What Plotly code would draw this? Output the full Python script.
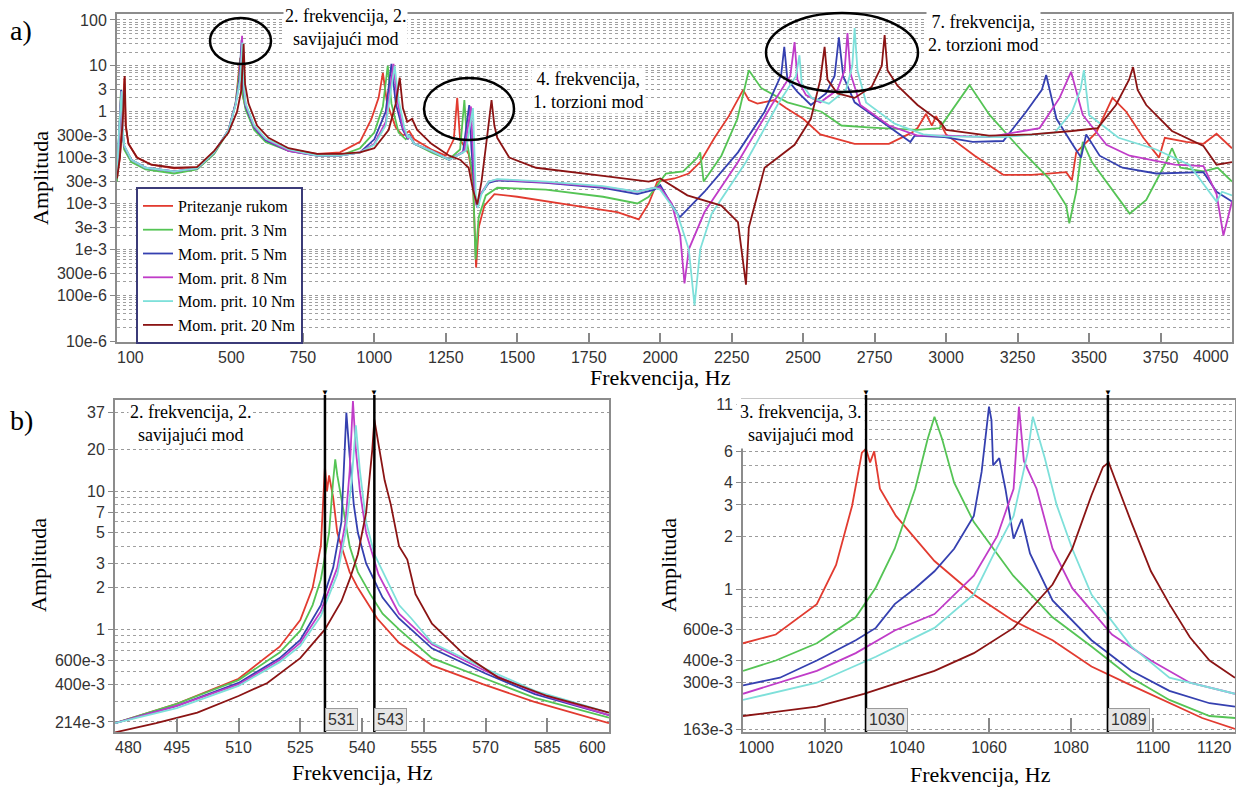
import plotly.graph_objects as go

W, H = 1236, 787

series_names = ["Pritezanje rukom", "Mom. prit. 3 Nm", "Mom. prit. 5 Nm",
                "Mom. prit. 8 Nm", "Mom. prit. 10 Nm", "Mom. prit. 20 Nm"]
series_colors = ["#e23b30", "#55c455", "#3540b0", "#c03cc8", "#7ee0da", "#8b1414"]

# ---------------- (a) full spectrum: (frequency Hz, amplitude) ----------------
a_rukom = [(100,0.035),(110,0.1),(118,0.6),(126,5.5),(130,0.5),(140,0.2),(170,0.1),(220,0.07),(300,0.058),
           (380,0.062),(440,0.13),(490,0.4),(515,1.5),(526,6),(531,15),(535,3),(550,1.2),(580,0.45),(620,0.25),
           (700,0.15),(800,0.12),(880,0.13),(950,0.22),(990,0.7),(1015,2.0),(1030,7),(1045,1.5),(1075,0.45),
           (1100,0.3),(1122,0.38),(1140,0.25),(1200,0.15),(1250,0.11),(1278,0.25),(1290,2.0),(1300,0.25),
           (1330,0.12),(1345,0.03),(1356,0.0004),(1365,0.003),(1385,0.009),(1420,0.016),(1500,0.014),
           (1700,0.009),(1850,0.0065),(1925,0.0045),(1960,0.01),(1990,0.03),(2050,0.035),(2100,0.045),
           (2140,0.08),(2190,0.27),(2240,0.8),(2290,3.0),(2310,1.8),(2340,1.5),(2400,1.8),(2440,1.2),
           (2500,0.7),(2560,0.32),(2680,0.2),(2800,0.2),(2880,0.35),(2900,0.44),(2930,0.9),(2950,0.5),
           (2965,0.8),(3000,0.32),(3100,0.11),(3200,0.042),(3300,0.042),(3420,0.048),(3440,0.032),
           (3455,0.13),(3525,0.35),(3582,2.0),(3630,1.0),(3690,0.27),(3745,0.1),(3765,0.27),(3840,0.22),
           (3900,0.2),(3946,0.33),(4000,0.16)]
a_3nm = [(100,0.03),(106,0.2),(114,3.0),(118,0.4),(125,0.15),(150,0.08),(200,0.055),(300,0.045),(380,0.055),
         (440,0.12),(490,0.38),(515,1.6),(527,6),(533.5,17),(537,3),(550,1.1),(580,0.4),(620,0.22),(700,0.14),
         (800,0.11),(880,0.11),(950,0.16),(1000,0.35),(1030,1.3),(1047,10),(1060,1.5),(1085,0.35),(1110,0.25),
         (1122,0.3),(1140,0.2),(1200,0.13),(1260,0.09),(1300,0.15),(1315,1.8),(1325,0.2),(1345,0.04),
         (1354,0.0006),(1365,0.005),(1390,0.015),(1430,0.022),(1600,0.02),(1800,0.014),(1920,0.01),
         (1960,0.014),(2000,0.03),(2020,0.045),(2080,0.05),(2130,0.1),(2140,0.13),(2152,0.03),(2214,0.11),
         (2270,0.7),(2310,8),(2353,3.3),(2445,1.6),(2564,1.0),(2634,0.5),(2740,0.45),(2900,0.4),(2977,0.44),
         (3082,3.8),(3152,0.85),(3270,0.13),(3360,0.035),(3420,0.009),(3431,0.0037),(3455,0.018),(3478,0.22),
         (3510,0.08),(3560,0.03),(3642,0.006),(3700,0.012),(3770,0.08),(3790,0.16),(3820,0.06),(3900,0.05),
         (3950,0.06),(4000,0.03)]
a_5nm = [(100,0.04),(106,0.3),(115,3.0),(119,0.4),(125,0.18),(150,0.09),(200,0.06),(300,0.05),(380,0.058),
         (440,0.13),(490,0.4),(515,1.5),(528,5),(536,37),(540,4),(550,1.3),(580,0.45),(620,0.24),(700,0.14),
         (800,0.11),(880,0.11),(950,0.13),(1000,0.25),(1040,1.0),(1060,11),(1075,1.5),(1100,0.4),(1118,0.25),
         (1122,0.32),(1140,0.2),(1200,0.14),(1262,0.09),(1310,0.13),(1332,1.4),(1340,0.15),(1350,0.02),
         (1358,0.009),(1370,0.015),(1400,0.028),(1430,0.032),(1600,0.028),(1800,0.022),(1920,0.016),
         (1980,0.02),(2000,0.025),(2027,0.013),(2068,0.005),(2155,0.018),(2272,0.13),(2365,1.0),(2423,6.3),
         (2434,26),(2445,5),(2480,2.7),(2527,1.4),(2580,2.5),(2610,6),(2625,42),(2640,6),(2680,1.6),
         (2795,0.5),(2875,0.22),(2890,0.3),(2995,0.28),(3093,0.22),(3200,0.23),(3280,1.0),(3335,3),
         (3350,6.3),(3386,0.7),(3443,0.19),(3472,0.1),(3490,0.32),(3537,0.11),(3617,0.06),(3735,0.045),
         (3900,0.048),(3946,0.018),(4000,0.011)]
a_8nm = [(100,0.04),(106,0.3),(115,2.8),(119,0.4),(125,0.18),(150,0.09),(200,0.06),(300,0.05),(380,0.058),
         (440,0.13),(490,0.4),(515,1.5),(530,5),(537.5,45),(542,4),(550,1.4),(580,0.47),(620,0.25),(700,0.14),
         (800,0.11),(880,0.11),(950,0.13),(1000,0.2),(1040,0.6),(1067,11),(1080,1.8),(1100,0.45),(1118,0.26),
         (1122,0.3),(1140,0.2),(1200,0.14),(1262,0.09),(1315,0.14),(1338,1.3),(1345,0.15),(1352,0.015),
         (1360,0.008),(1372,0.016),(1400,0.03),(1430,0.033),(1600,0.029),(1800,0.023),(1920,0.018),
         (1980,0.022),(2000,0.022),(2040,0.01),(2070,0.002),(2085,0.00018),(2100,0.001),(2155,0.0065),
         (2272,0.08),(2390,1.4),(2455,6),(2470,33),(2480,5),(2510,2.3),(2560,1.6),(2620,3),(2645,8),
         (2655,52),(2665,7),(2700,1.4),(2800,0.5),(2900,0.3),(3000,0.3),(3150,0.28),(3327,0.44),(3397,2),
         (3437,7.4),(3478,0.85),(3561,0.19),(3642,0.11),(3800,0.07),(3900,0.065),(3946,0.016),(3970,0.002),
         (4000,0.011)]
a_10nm = [(100,0.04),(106,0.3),(116,2.8),(120,0.4),(126,0.18),(150,0.09),(200,0.06),(300,0.05),(380,0.058),
          (440,0.13),(490,0.4),(515,1.4),(531,5),(538.5,32),(543,4),(550,1.5),(580,0.5),(620,0.26),(700,0.15),
          (800,0.11),(880,0.11),(950,0.13),(1000,0.19),(1040,0.5),(1071,10),(1085,1.8),(1105,0.45),(1118,0.27),
          (1122,0.3),(1140,0.2),(1200,0.14),(1262,0.09),(1320,0.14),(1345,1.2),(1350,0.15),(1355,0.015),
          (1362,0.008),(1375,0.016),(1400,0.03),(1430,0.034),(1600,0.03),(1800,0.024),(1920,0.018),
          (1980,0.022),(2000,0.02),(2060,0.006),(2100,0.001),(2120,0.00006),(2140,0.001),(2180,0.006),
          (2300,0.08),(2410,1.4),(2475,6),(2487,17),(2495,4),(2530,2),(2590,1.5),(2650,3),(2672,10),(2680,67),
          (2690,8),(2720,1.6),(2820,0.55),(2920,0.32),(3000,0.29),(3200,0.28),(3380,0.35),(3440,1.0),
          (3470,3),(3482,8.1),(3500,0.85),(3603,0.27),(3735,0.15),(3850,0.07),(3946,0.011),(3965,0.018),
          (4000,0.015)]
a_20nm = [(100,0.035),(110,0.1),(120,0.6),(127,6),(131,0.5),(140,0.2),(170,0.1),(220,0.07),(300,0.06),
          (380,0.062),(440,0.14),(490,0.35),(520,1.0),(535,3),(543,30),(548,4),(560,1.5),(590,0.5),(630,0.27),
          (700,0.16),(800,0.12),(880,0.12),(950,0.13),(1000,0.16),(1050,0.4),(1075,1.5),(1089,5.5),(1100,1.2),
          (1115,0.6),(1132,0.7),(1150,0.4),(1200,0.2),(1262,0.11),(1300,0.09),(1330,0.06),(1345,0.02),
          (1360,0.0095),(1375,0.03),(1395,0.3),(1410,1.8),(1420,0.5),(1430,0.27),(1472,0.1),(1566,0.06),
          (1800,0.04),(1960,0.03),(2000,0.035),(2095,0.015),(2214,0.009),(2272,0.0039),(2300,0.00017),
          (2310,0.003),(2365,0.06),(2470,0.19),(2527,0.7),(2560,5),(2575,26),(2585,5),(2620,2.5),(2680,2.0),
          (2740,3.5),(2775,10),(2785,47),(2795,8),(2830,3.7),(2900,1.4),(2980,0.6),(3000,0.4),(3150,0.3),
          (3300,0.32),(3440,0.38),(3530,0.44),(3594,1.4),(3640,5),(3654,9.4),(3670,3),(3700,1.4),(3790,0.38),
          (3900,0.18),(3946,0.07),(4000,0.08)]

# ---------------- (b) left: 2nd bending mode ----------------
b1_rukom = [(480,0.21),(495,0.29),(510,0.44),(520,0.75),(525,1.17),(528,2.0),(530,4),(530.5,8),(531,15),
            (531.5,10),(532,13),(533,9),(534,5),(535,4),(537,2.6),(539,2.0),(543.7,1.2),(549,0.8),(557,0.55),
            (569.5,0.4),(581.7,0.3),(600,0.21)]
b1_3nm = [(480,0.21),(495,0.29),(510,0.43),(520,0.68),(525,0.98),(528,1.5),(530,2.3),(532,5),(533,12),
          (533.5,17),(534,13),(535,9),(536,6),(537,4),(539,2.6),(542,1.8),(545,1.3),(549,1.0),(557,0.62),
          (570,0.44),(582,0.32),(600,0.23)]
b1_5nm = [(480,0.21),(495,0.28),(510,0.41),(520,0.62),(525,0.84),(530,1.5),(533,2.8),(535,6),(535.8,20),
          (536.2,37),(537,18),(538,8),(539,5),(541,3),(545,1.7),(549,1.2),(557,0.73),(570,0.48),(582,0.34),
          (600,0.24)]
b1_8nm = [(480,0.21),(495,0.28),(510,0.4),(520,0.6),(525,0.8),(530,1.35),(534,2.8),(536,6),(537,14),
          (537.8,45),(538.5,20),(539.5,10),(541,5),(544,2.5),(549,1.3),(557,0.78),(570,0.5),(582,0.35),
          (600,0.24)]
b1_10nm = [(480,0.21),(495,0.27),(510,0.39),(520,0.58),(525,0.76),(530,1.25),(534,2.5),(536,5),(537.5,12),
           (538.5,30),(539.5,14),(541,6),(543,3.5),(546,2.3),(549,1.5),(552,1.2),(557,0.8),(570,0.52),
           (582,0.36),(600,0.25)]
b1_20nm = [(480,0.18),(490,0.21),(500,0.25),(510,0.33),(517,0.41),(525,0.62),(531,1.0),(535,1.6),(537,2.3),
           (539,3.5),(541,7),(542.5,20),(543,33),(544,22),(545.5,12),(547,8),(549,4),(551,3.2),(553,1.8),
           (557,1.1),(565,0.65),(573,0.45),(585,0.33),(600,0.25)]

# ---------------- (b) right: 3rd bending mode ----------------
b2_rukom = [(1000,0.5),(1008,0.56),(1018,0.83),(1022.7,1.38),(1026.6,2.96),(1029,5.9),(1030,6.2),(1031,5.2),
            (1032,6.0),(1032.5,5.0),(1033.4,3.7),(1037.3,2.6),(1042,1.94),(1046.7,1.45),(1056.3,0.94),
            (1065.9,0.67),(1075.5,0.52),(1085,0.37),(1094.7,0.29),(1104,0.23),(1112,0.19),(1120,0.165)]
b2_3nm = [(1000,0.35),(1008,0.40),(1018,0.5),(1027.5,0.7),(1032.4,1.03),(1037,1.7),(1042,3.7),(1045,7),
          (1046.7,9.4),(1048.6,7),(1051.5,4),(1056.3,2.4),(1065.9,1.2),(1075.5,0.7),(1085,0.48),(1094.7,0.32),
          (1104,0.24),(1113.8,0.195),(1120,0.19)]
b2_5nm = [(1000,0.29),(1009,0.32),(1018,0.4),(1027.5,0.52),(1032.4,0.61),(1037,0.83),(1042,1.02),
          (1046.7,1.27),(1051.5,1.7),(1056.3,2.6),(1058.2,4.6),(1059.5,8),(1060,10.7),(1060.6,9),(1061,5),
          (1062.5,5.5),(1064,3.7),(1066,1.94),(1068,2.5),(1070,1.6),(1075.5,0.87),(1085,0.52),(1094.7,0.35),
          (1104,0.27),(1113.8,0.23),(1120,0.22)]
b2_8nm = [(1000,0.26),(1018,0.35),(1027.5,0.44),(1037,0.59),(1046.7,0.73),(1056.3,1.2),(1062,2.0),(1066,3.7),
          (1067.3,10.7),(1068.5,5.3),(1071.6,3.7),(1075.5,1.7),(1080.3,1.02),(1090,0.56),(1099.5,0.4),
          (1109,0.3),(1120,0.26)]
b2_10nm = [(1000,0.24),(1018,0.3),(1032.4,0.42),(1046.7,0.61),(1056.3,0.94),(1061,1.56),(1066,2.6),
           (1069.5,6),(1070.7,9.4),(1073.6,5.5),(1076.5,3),(1080.3,1.7),(1085,0.94),(1094.7,0.48),(1104,0.32),
           (1120,0.26)]
b2_20nm = [(1000,0.195),(1018,0.22),(1029.5,0.26),(1046.7,0.35),(1056.3,0.44),(1066,0.61),(1075.5,1.07),
           (1080.3,1.7),(1085,3.4),(1087.8,4.9),(1089.2,5.2),(1090.6,4.3),(1092,3.5),(1094.7,2.4),(1099.5,1.27),
           (1104,0.83),(1109,0.54),(1113.8,0.4),(1120,0.32)]

# tick labels (labels at the right edge of each x axis are drawn right-aligned, see below)
a_xticks = [100, 250, 500, 750, 1000, 1250, 1500, 1750, 2000, 2250, 2500, 2750, 3000, 3250, 3500, 3750, 4000]
a_xtext = ["\u00a0" * 6 + "100", "", "500", "750", "1000", "1250", "1500", "1750", "2000", "2250", "2500",
           "2750", "3000", "3250", "3500", "3750", ""]
a_yticks = [100, 10, 3, 1, 0.3, 0.1, 0.03, 0.01, 0.003, 0.001, 3e-4, 1e-4, 1e-5]
a_ytext = ["100", "10", "3", "1", "300e-3", "100e-3", "30e-3", "10e-3", "3e-3", "1e-3", "300e-6", "100e-6", "10e-6"]
b1_xticks = [480, 495, 510, 525, 540, 555, 570, 585, 600]
b1_xtext = ["\u00a0" * 6 + "480", "495", "510", "525", "540", "555", "570", "585", ""]
b1_yticks = [37, 20, 10, 7, 5, 3, 2, 1, 0.6, 0.4, 0.214]
b1_ytext = ["37", "20", "10", "7", "5", "3", "2", "1", "600e-3", "400e-3", "214e-3"]
b1_yminor = [9, 8, 6, 4, 0.9, 0.8, 0.7, 0.5, 0.3]
b2_xticks = [1000, 1020, 1040, 1060, 1080, 1100, 1120]
b2_xtext = ["\u00a0" * 6 + "1000", "1020", "1040", "1060", "1080", "1100", ""]
b2_yticks = [11, 6, 4, 3, 2, 1, 0.6, 0.4, 0.3, 0.163]
b2_ytext = ["11", "6", "4", "3", "2", "1", "600e-3", "400e-3", "300e-3", "163e-3"]
b2_yminor = [10, 9, 8, 7, 5, 0.9, 0.8, 0.7, 0.5, 0.2]
edge_labels = [("x", 4000, 356), ("x2", 600, 747), ("x3", 1120, 747)]
b1_markers = [531, 543]
b2_markers = [1030, 1089]

a_yminor = [k * 10.0 ** d for d in range(-6, 3) for k in range(2, 10)]


def px(x):
    return x / W


def py(y):
    return 1 - y / H


TOP = dict(x=[px(117), px(1232)], y=[py(342), py(14)])
BL = dict(x=[px(115), px(609)], y=[py(732), py(400)])
BR = dict(x=[px(743), px(1235)], y=[py(732), py(400)])

fig = go.Figure()

a_sets = [a_rukom, a_3nm, a_5nm, a_8nm, a_10nm, a_20nm]
b1_sets = [b1_rukom, b1_3nm, b1_5nm, b1_8nm, b1_10nm, b1_20nm]
b2_sets = [b2_rukom, b2_3nm, b2_5nm, b2_8nm, b2_10nm, b2_20nm]

LW = 1.8
for name, col, d in zip(series_names, series_colors, a_sets):
    fig.add_trace(go.Scatter(x=[p[0] for p in d], y=[p[1] for p in d], mode="lines", name=name,
                             line=dict(color=col, width=LW), xaxis="x", yaxis="y", legendgroup=name))
for name, col, d in zip(series_names, series_colors, b1_sets):
    fig.add_trace(go.Scatter(x=[p[0] for p in d], y=[p[1] for p in d], mode="lines", name=name,
                             line=dict(color=col, width=LW), xaxis="x2", yaxis="y2", showlegend=False,
                             legendgroup=name))
for name, col, d in zip(series_names, series_colors, b2_sets):
    fig.add_trace(go.Scatter(x=[p[0] for p in d], y=[p[1] for p in d], mode="lines", name=name,
                             line=dict(color=col, width=LW), xaxis="x3", yaxis="y3", showlegend=False,
                             legendgroup=name))

tickfont = dict(family="Liberation Sans, Arial, sans-serif", size=16, color="#333")
frame = dict(showline=True, linecolor="#8c8c8c", linewidth=2, mirror=True)
gridd = dict(showgrid=True, gridcolor="#9a9a9a", griddash="dot", gridwidth=1)


def xax(domain, rng, tv, tt, anchor, tlen):
    return dict(domain=domain, range=rng, tickmode="array", tickvals=tv, ticktext=tt, ticks="inside",
                ticklen=tlen, tickcolor="#888", tickwidth=1.5, tickfont=tickfont, showgrid=False,
                zeroline=False, anchor=anchor, automargin=False, ticklabeloverflow="allow", **frame)


def yax(domain, rng, tv, tt, anchor, minor_vals):
    return dict(domain=domain, type="log", range=rng, tickmode="array", tickvals=tv, ticktext=tt,
                ticks="outside", ticklen=5, tickcolor="#888", tickfont=tickfont, zeroline=False,
                anchor=anchor, automargin=False, ticklabeloverflow="allow",
                minor=dict(tickmode="array", tickvals=minor_vals, showgrid=True,
                           gridcolor="#a0a0a0", griddash="dot", gridwidth=1, ticks=""),
                **gridd, **frame)


fig.update_layout(
    width=W, height=H, margin=dict(l=0, r=0, t=0, b=0, autoexpand=False),
    paper_bgcolor="white", plot_bgcolor="white",
    xaxis=xax(TOP["x"], [100, 4000], a_xticks, a_xtext, "y", 9),
    yaxis=yax(TOP["y"], [-5.02, 2.13], a_yticks, a_ytext, "x", a_yminor),
    xaxis2=xax(BL["x"], [480, 600], b1_xticks, b1_xtext, "y2", 14),
    yaxis2=yax(BL["y"], [-0.742, 1.66], b1_yticks, b1_ytext, "x2", b1_yminor),
    xaxis3=xax(BR["x"], [1000, 1120], b2_xticks, b2_xtext, "y3", 14),
    yaxis3=yax(BR["y"], [-0.80, 1.067], b2_yticks, b2_ytext, "x3", b2_yminor),
    legend=dict(x=px(136), y=py(187), xanchor="left", yanchor="top", bgcolor="white",
                bordercolor="#3b3b78", borderwidth=2,
                font=dict(family="Liberation Serif, Times New Roman, serif", size=16, color="black"),
                tracegroupgap=0, itemwidth=30),
    showlegend=True,
)

serif = "Liberation Serif, Times New Roman, serif"
ann = []


def text(x, y, t, size, **kw):
    d = dict(x=px(x), y=py(y), xref="paper", yref="paper", text=t, showarrow=False,
             xanchor="center", yanchor="middle",
             font=dict(family=serif, size=size, color="black"))
    d.update(kw)
    ann.append(d)


text(8, 30, "a)", 28, xanchor="left")
text(8, 420, "b)", 28, xanchor="left")
text(40, 178, "Amplituda", 22, textangle=-90)
text(38, 565, "Amplituda", 22, textangle=-90)
text(668, 565, "Amplituda", 22, textangle=-90)
text(660, 378, "Frekvencija, Hz", 22)
text(362, 772, "Frekvencija, Hz", 22)
text(980, 774, "Frekvencija, Hz", 22)
text(345, 27, "2. frekvencija, 2.<br>savijajući mod", 18, bgcolor="white")
text(588, 91, "4. frekvencija,<br>1. torzioni mod", 18, bgcolor="white")
text(983, 34, "7. frekvencija,<br>2. torzioni mod", 18, bgcolor="white")
text(190, 424, "2. frekvencija, 2.<br>savijajući mod", 18, bgcolor="white")
text(800, 424, "3. frekvencija, 3.<br>savijajući mod", 18, bgcolor="white", borderpad=3)

# right-edge tick labels, right-aligned so that they stay inside the page
for xa, v, ypix in edge_labels:
    ann.append(dict(x=v, xref=xa, y=py(ypix), yref="paper", text=str(v), showarrow=False,
                    xanchor="right", yanchor="middle", xshift=-1, font=tickfont))

shapes = []
for (x0, y0, x1, y1) in [(210, 18, 271, 64), (424, 78, 514, 140), (766, 13, 918, 92)]:
    shapes.append(dict(type="circle", xref="paper", yref="paper", x0=px(x0), x1=px(x1), y0=py(y1),
                       y1=py(y0), line=dict(color="black", width=2.5)))

for xa, marks in (("x2", b1_markers), ("x3", b2_markers)):
    for m in marks:
        shapes.append(dict(type="line", xref=xa, yref="paper", x0=m, x1=m, y0=py(732), y1=py(395),
                           line=dict(color="black", width=2.5)))
        ann.append(dict(x=m, y=py(399), xref=xa, yref="paper", text="▼", showarrow=False,
                        xanchor="center", yanchor="bottom", font=dict(size=8, color="black")))
        ann.append(dict(x=m, y=py(731), xref=xa, yref="paper", text=str(m), showarrow=False,
                        xanchor="left", yanchor="bottom", bgcolor="#e6e6e6", bordercolor="#9a9a9a",
                        borderwidth=1, borderpad=2, font=tickfont))

fig.update_layout(annotations=ann, shapes=shapes)
fig.write_html("out.html")
